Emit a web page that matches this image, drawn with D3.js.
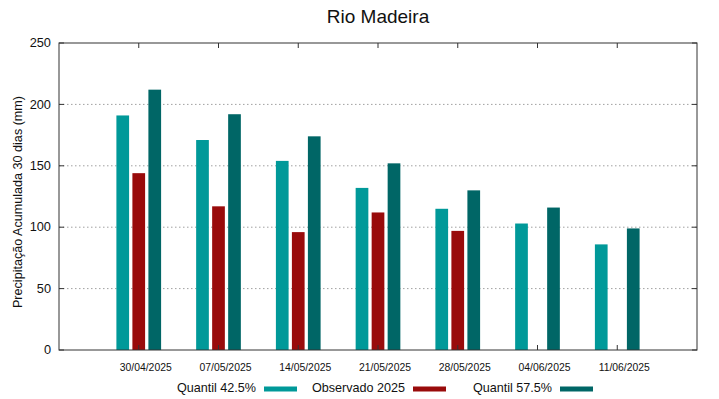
<!DOCTYPE html>
<html><head><meta charset="utf-8">
<script src="https://cdn.jsdelivr.net/npm/d3@7"></script>
<style>body{margin:0;background:#fff}svg{display:block;font-family:"Liberation Sans",Arial,sans-serif}</style>
</head><body>
<script>
const categories = ["30/04/2025","07/05/2025","14/05/2025","21/05/2025","28/05/2025","04/06/2025","11/06/2025"];
const quantil425 = [191,171,154,132,115,103,86];
const observado = [144,117,96,112,97,null,null];
const quantil575 = [212,192,174,152,130,116,99];
const yTicks = [0,50,100,150,200,250];
const seriesNames = ["Quantil 42.5%","Observado 2025","Quantil 57.5%"];
const colors = ["#009999","#990b0b","#006666"];

const W=719,H=399;
const L=59,R=697,T=43,B=350;
const svg=d3.select("body").append("svg").attr("width",W).attr("height",H);
const x=d3.scaleLinear().domain([-1,categories.length]).range([L,R]);
const y=d3.scaleLinear().domain([0,250]).range([B,T]);

// grid
svg.append("g").selectAll("line").data(yTicks.filter(d=>d>0&&d<250)).join("line")
 .attr("x1",L).attr("x2",R).attr("y1",d=>y(d)).attr("y2",d=>y(d))
 .attr("stroke","#a0a0a0").attr("stroke-width",1).attr("stroke-dasharray","1.5,2.5");

const series=[quantil425,observado,quantil575];
const bw=12.7, step=16;
series.forEach((s,si)=>{
  svg.append("g").selectAll("rect").data(s.map((v,i)=>({v,i})).filter(d=>d.v!=null)).join("rect")
   .attr("x",d=>x(d.i)+(si-1)*step-bw/2).attr("width",bw)
   .attr("y",d=>y(d.v)).attr("height",d=>y(0)-y(d.v))
   .attr("fill",colors[si]);
});

// border
svg.append("rect").attr("x",L).attr("y",T).attr("width",R-L).attr("height",B-T)
 .attr("fill","none").attr("stroke","#333").attr("stroke-width",1);

// y ticks
const yt=svg.append("g");
yTicks.forEach(d=>{
  yt.append("line").attr("x1",L).attr("x2",L+5).attr("y1",y(d)).attr("y2",y(d)).attr("stroke","#333");
  yt.append("line").attr("x1",R).attr("x2",R-5).attr("y1",y(d)).attr("y2",y(d)).attr("stroke","#333");
  yt.append("text").attr("x",51).attr("y",y(d)+4.2).attr("text-anchor","end").attr("font-size",12.8).attr("fill","#111").text(d);
});
// x ticks
const xt=svg.append("g");
categories.forEach((c,i)=>{
  xt.append("line").attr("x1",x(i)).attr("x2",x(i)).attr("y1",B).attr("y2",B-5).attr("stroke","#333");
  xt.append("line").attr("x1",x(i)).attr("x2",x(i)).attr("y1",T).attr("y2",T+5).attr("stroke","#333");
  xt.append("text").attr("x",x(i)+7).attr("y",371).attr("text-anchor","middle").attr("font-size",10.4).attr("fill","#111").text(c);
});

svg.append("text").attr("transform","translate(22,202) rotate(-90)").attr("text-anchor","middle")
 .attr("font-size",12.6).attr("fill","#111").text("Precipitação Acumulada 30 dias (mm)");
svg.append("text").attr("x",378).attr("y",23).attr("text-anchor","middle").attr("font-size",19).attr("fill","#111").text("Rio Madeira");

// legend
const legX=[256,405,552];
const lg=svg.append("g");
seriesNames.forEach((n,i)=>{
  lg.append("text").attr("x",legX[i]).attr("y",392).attr("text-anchor","end").attr("font-size",12.6).attr("fill","#111").text(n);
  lg.append("rect").attr("x",legX[i]+8).attr("y",386.5).attr("width",33).attr("height",5).attr("fill",colors[i]);
});
</script>
</body></html>
